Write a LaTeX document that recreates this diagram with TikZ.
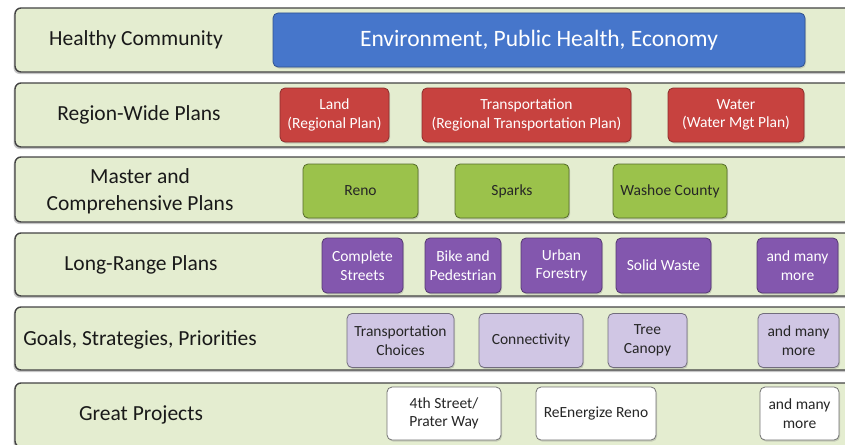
\documentclass[tikz,border=0pt]{standalone}
\usepackage{fontspec}
\setmainfont{Carlito}
\usetikzlibrary{shadows}

\definecolor{bandfill}{HTML}{E4EDD0}
\definecolor{bandline}{HTML}{444444}
\definecolor{envblue}{HTML}{4676CB}
\definecolor{regionred}{HTML}{C7423F}
\definecolor{mastergreen}{HTML}{9BC24B}
\definecolor{longpurple}{HTML}{8357AE}
\definecolor{goallilac}{HTML}{D0C6E4}

\tikzset{
  band/.style={draw=bandline, line width=1.4pt, fill=bandfill, rounded corners=6pt,
    minimum width=845pt, inner sep=0pt,
    drop shadow={shadow xshift=-1.5pt, shadow yshift=-2pt, opacity=.45}},
  rowlabel/.style={align=center, text=black!90, font=\fontsize{21.5}{27}\selectfont},
  planbox/.style={rounded corners=5pt, line width=.8pt, inner sep=0pt, align=center,
    font=\fontsize{15.5}{18.5}\selectfont,
    drop shadow={shadow xshift=1pt, shadow yshift=-1.5pt, opacity=.3}},
  envbox/.style={planbox, fill=envblue, draw=envblue!70!black, text=white,
    font=\fontsize{23.5}{28}\selectfont},
  regionbox/.style={planbox, fill=regionred, draw=regionred!70!black, text=white},
  masterbox/.style={planbox, fill=mastergreen, draw=mastergreen!55!black, text=black!85},
  longbox/.style={planbox, fill=longpurple, draw=longpurple!65!black, text=white},
  goalbox/.style={planbox, fill=goallilac, draw=goallilac!55!black, text=black!85},
  projbox/.style={planbox, fill=white, draw=black!55, text=black!85},
}

\begin{document}
\begin{tikzpicture}[x=1pt, y=-1pt]
  \useasboundingbox (0,0) rectangle (845,444);
  \clip (0,0) rectangle (845,444);

  % Ebenen
  \foreach \n/\y/\h in {1/40/64, 2/115/64, 3/189.5/65, 4/264.5/63, 5/338.5/63, 6/415/64}
    \node[band, minimum height=\h pt] (band\n) at (437.5,\y) {};

  % Beschriftungen
  \node[rowlabel] (lab1) at (136,40)    {Healthy Community};
  \node[rowlabel] (lab2) at (139,115)   {Region-Wide Plans};
  \node[rowlabel] (lab3) at (140,191)   {Master and\\Comprehensive Plans};
  \node[rowlabel] (lab4) at (141,265)   {Long-Range Plans};
  \node[rowlabel] (lab5) at (140,340)   {Goals, Strategies, Priorities};
  \node[rowlabel] (lab6) at (141,415)   {Great Projects};

  % Healthy Community
  \node[envbox, minimum width=532pt, minimum height=54pt] (env) at (539,40) {Environment, Public Health, Economy};

  % Region-Wide Plans
  \node[regionbox, minimum width=109pt, minimum height=54pt] (land)   at (334.5,115) {Land\\(Regional Plan)};
  \node[regionbox, minimum width=209pt, minimum height=54pt] (transp) at (526.5,115) {Transportation\\(Regional Transportation Plan)};
  \node[regionbox, minimum width=136pt, minimum height=54pt] (water)  at (736,115)   {Water\\(Water Mgt Plan)};

  % Master and Comprehensive Plans
  \node[masterbox, minimum width=115pt, minimum height=54pt] (reno)   at (360.5,191) {Reno};
  \node[masterbox, minimum width=114pt, minimum height=54pt] (sparks) at (512,191)   {Sparks};
  \node[masterbox, minimum width=114pt, minimum height=54pt] (washoe) at (670,191)   {Washoe County};

  % Long-Range Plans
  \node[longbox, minimum width=81pt, minimum height=55pt] (streets) at (362.5,265.5) {Complete\\Streets};
  \node[longbox, minimum width=76pt, minimum height=55pt] (bike)    at (463,265.5)   {Bike and\\Pedestrian};
  \node[longbox, minimum width=81pt, minimum height=55pt] (urban)   at (561.5,265.5) {Urban\\Forestry};
  \node[longbox, minimum width=95pt, minimum height=55pt] (waste)   at (663.5,265.5) {Solid Waste};
  \node[longbox, minimum width=81pt, minimum height=55pt] (more4)   at (797.5,265.5) {and many\\more};

  % Goals, Strategies, Priorities
  \node[goalbox, minimum width=107pt, minimum height=54pt] (choices) at (400.5,340.5) {Transportation\\Choices};
  \node[goalbox, minimum width=104pt, minimum height=54pt] (connect) at (531,340.5)   {Connectivity};
  \node[goalbox, minimum width=79pt,  minimum height=54pt] (canopy)  at (647.5,340.5) {Tree\\Canopy};
  \node[goalbox, minimum width=81pt,  minimum height=54pt] (more5)   at (798.5,340.5) {and many\\more};

  % Great Projects
  \node[projbox, minimum width=114pt, minimum height=53pt] (prater) at (444,413.5)   {4th Street/\\Prater Way};
  \node[projbox, minimum width=120pt, minimum height=53pt] (energy) at (596,413.5)   {ReEnergize Reno};
  \node[projbox, minimum width=79pt,  minimum height=53pt] (more6)  at (799.5,413.5) {and many\\more};
\end{tikzpicture}
\end{document}
